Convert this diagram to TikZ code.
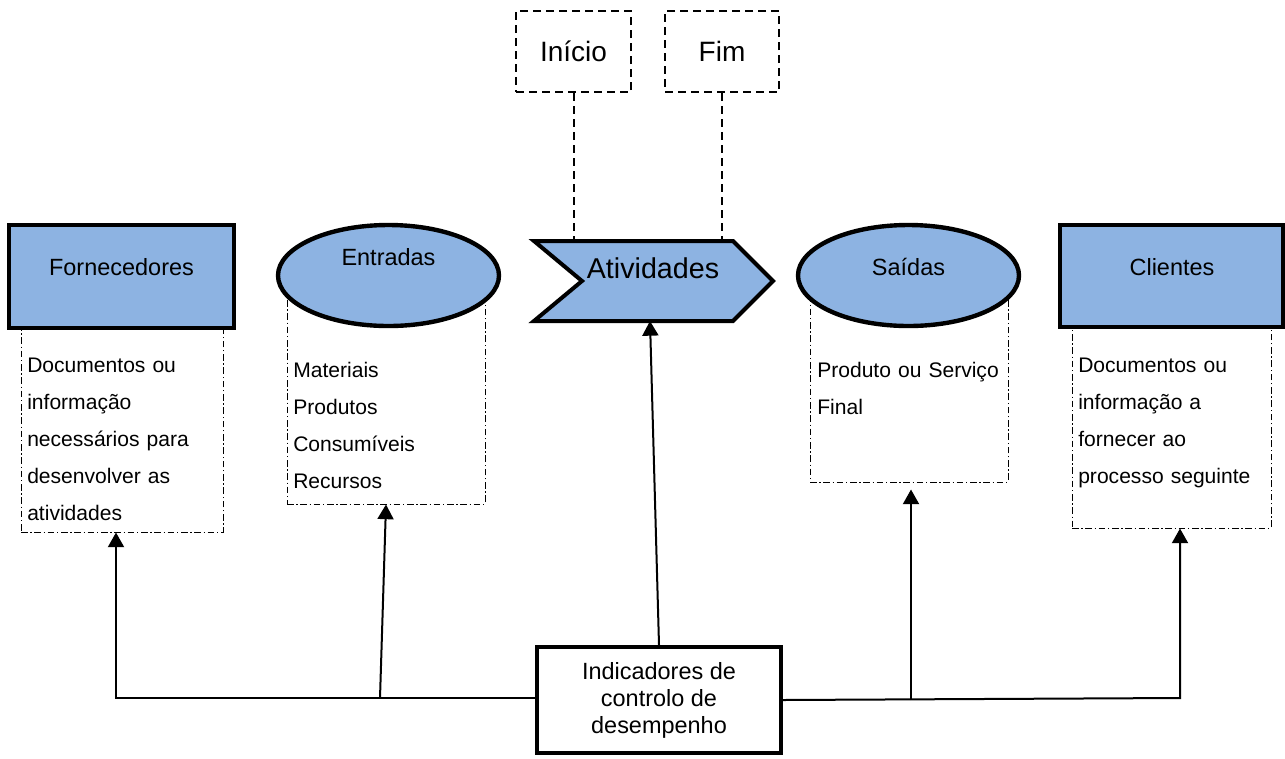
\documentclass[tikz,border=0pt]{standalone}
\usepackage{fontspec}
\setmainfont{Liberation Sans}
\usetikzlibrary{arrows.meta,shapes.geometric,calc}
\definecolor{procblue}{RGB}{141,179,226}
\tikzset{
  hdrbox/.style={draw=black, line width=3pt, fill=procblue, rectangle, inner sep=0pt},
  hdrell/.style={draw=black, line width=3.3pt, fill=procblue, ellipse, inner sep=0pt,
                 minimum width=165.75pt, minimum height=75.75pt},
  hdrtxt/.style={font=\fontsize{17.6pt}{21pt}\selectfont, inner sep=0pt},
  desc/.style={draw=black, line width=0.75pt, dash pattern=on 5pt off 2pt on 1pt off 2pt, inner sep=0pt},
  desctxt/.style={anchor=base west, inner sep=0pt, text width=150pt, align=left,
                  font=\fontsize{15.8pt}{27.75pt}\selectfont},
  markbox/.style={draw=black, line width=1.5pt, dash pattern=on 6pt off 3.75pt, inner sep=0pt,
                  font=\fontsize{21pt}{25pt}\selectfont},
  markline/.style={line width=1.5pt, dash pattern=on 6pt off 3.75pt},
  conn/.style={line width=1.5pt},
  arr/.style={conn, -{Triangle[width=12pt,length=11pt]}},
  ctrlbox/.style={draw=black, line width=3pt, fill=white, inner sep=0pt, align=center,
                  font=\fontsize{17.6pt}{20.25pt}\selectfont}
}
\begin{document}
\begin{tikzpicture}[x=0.75pt,y=-0.75pt]
\useasboundingbox (0,0) rectangle (1285,758);

% description areas below each header
\node[desc, minimum width=151.5pt, minimum height=181.5pt] (fdesc) at (122,411) {};
\node[desc, minimum width=148.5pt, minimum height=168pt] (edesc) at (386,392) {};
\node[desc, minimum width=148.5pt, minimum height=151.5pt] (sdesc) at (909,381) {};
\node[desc, minimum width=149.25pt, minimum height=178.5pt] (cdesc) at (1171.5,409) {};

% start / end markers
\node[markbox, minimum width=86.25pt, minimum height=60.75pt] (ini) at (573.5,51.5) {Início};
\node[markbox, minimum width=85.5pt, minimum height=60.75pt] (fim) at (722,51.5) {Fim};
\coordinate (chTop) at (653,241);
\coordinate (actBot) at (650,321);
\draw[markline] (ini.south) -- (ini.south |- chTop);
\draw[markline] (fim.south) -- (fim.south |- chTop);

% activity chevron
\draw[line width=3pt, fill=procblue, line join=miter]
  (534,241) -- (733,241) -- (773,281) -- (733,321) -- (534,321) -- (582,281) -- cycle;
\node[font=\fontsize{21.5pt}{25pt}\selectfont, inner sep=0pt] (act) at (653,268) {Atividades};

% headers
\node[hdrbox, minimum width=168.75pt, minimum height=77.25pt] (forn) at (121.5,276.5) {};
\node[hdrtxt] (fornt) at (121.5,267) {Fornecedores};
\node[hdrell] (ent) at (388.5,275.5) {};
\node[hdrtxt] (entt) at (388.5,257) {Entradas};
\node[hdrell] (sai) at (908.5,275.5) {};
\node[hdrtxt] (sait) at (908.5,267) {Saídas};
\node[hdrbox, minimum width=167.25pt, minimum height=76.5pt] (cli) at (1171.5,276) {};
\node[hdrtxt] (clit) at (1172,267) {Clientes};

% description texts
\node[desctxt] (fdt) at (27,372) {Documentos ou\\informação\\necessários para\\desenvolver as\\atividades};
\node[desctxt] (edt) at (293,377) {Materiais\\Produtos\\Consumíveis\\Recursos};
\node[desctxt] (sdt) at (817,377) {Produto ou Serviço\\Final};
\node[desctxt] (cdt) at (1078,372) {Documentos ou\\informação a\\fornecer ao\\processo seguinte};

% performance indicators
\node[ctrlbox, minimum width=183pt, minimum height=79.5pt] (ind) at (659,700)
  {Indicadores de\\controlo de\\desempenho};

% control connectors
\coordinate (jl) at (116,698);
\coordinate (je) at (380,698);
\coordinate (js) at (911,700);
\coordinate (jr) at (1180,698);
\draw[arr] (ind.west |- jl) -- (jl) -- (jl |- fdesc.south);
\draw[arr] (je) -- (edesc.south);
\draw[arr] (ind.north) -- (actBot);
\draw[arr] (js) -- ($(js |- sdesc.south)+(0,7)$);
\draw[arr] (ind.east) -- (jr) -- (jr |- cdesc.south);
\end{tikzpicture}
\end{document}
